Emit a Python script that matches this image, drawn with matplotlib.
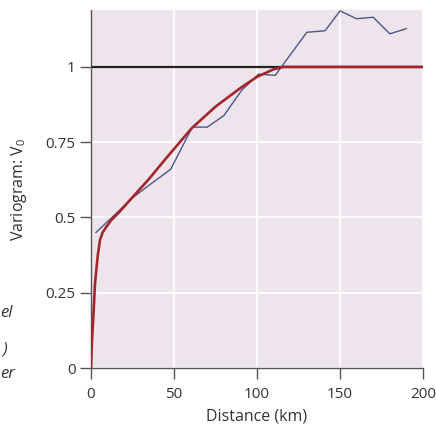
import matplotlib
matplotlib.use("Agg")
import matplotlib.pyplot as plt

plt.rcParams['font.family'] = ['Open Sans', 'DejaVu Sans']
plt.rcParams['mathtext.fontset'] = 'custom'
plt.rcParams['mathtext.rm'] = 'Open Sans'

# Empirical variogram (blue)
emp_dist = [3, 25, 34, 48, 61, 70, 80, 91, 101, 111, 130, 141, 150, 160, 170, 180, 190]
emp_val = [0.45, 0.565, 0.603, 0.66, 0.80, 0.80, 0.838, 0.924, 0.976, 0.972,
           1.115, 1.12, 1.186, 1.16, 1.165, 1.11, 1.127]

# Fitted model (red)
mod_dist = [0, 0.5, 1.4, 2.4, 4, 5.4, 7, 9.4, 12, 16.4, 23.5, 34.5, 45, 60.6,
            75, 89.8, 100, 110, 116, 120, 200]
mod_val = [0, 0.08, 0.17, 0.28, 0.37, 0.425, 0.45, 0.47, 0.49, 0.514, 0.558,
           0.625, 0.695, 0.796, 0.868, 0.929, 0.967, 0.992, 1.0, 1.0, 1.0]

sill = 1.0
x_ticks = [0, 50, 100, 150, 200]
y_ticks = [0, 0.25, 0.5, 0.75, 1]
y_ticklabels = ["0", "0.25", "0.5", "0.75", "1"]

fig = plt.figure(figsize=(4.36, 4.25), dpi=100)
ax = fig.add_axes([91/436, 57/425, 332/436, 358/425])
ax.set_facecolor('#ede5eb')

ax.set_xlim(0, 200)
ax.set_ylim(0, 1.189)
ax.set_xticks(x_ticks)
ax.set_yticks(y_ticks)
ax.set_yticklabels(y_ticklabels)

ax.grid(True, color='white', linewidth=1.3)
ax.set_axisbelow(True)

for s in ['top', 'right']:
    ax.spines[s].set_visible(False)
for s in ['left', 'bottom']:
    ax.spines[s].set_color('#555555')
    ax.spines[s].set_linewidth(1.0)

ax.tick_params(axis='both', direction='out', length=8, width=1.0,
               color='#555555', labelsize=11, labelcolor='#333333')
ax.tick_params(axis='y', pad=3)
ax.tick_params(axis='x', pad=6)

ax.axhline(sill, color='#222222', linewidth=1.6, zorder=2)
ax.plot(emp_dist, emp_val, color='#4b5687', linewidth=1.0, zorder=3)
ax.plot(mod_dist, mod_val, color='#a3262c', linewidth=1.9, zorder=4,
        solid_capstyle='butt')

ax.set_xlabel('Distance (km)', fontsize=11.5, color='#333333')
ax.set_ylabel(r'Variogram: V$_\mathregular{0}$', fontsize=11.5, color='#333333')
ax.xaxis.set_label_coords(0.5, -0.112)
ax.yaxis.set_label_coords(-0.188, 0.5)

# cut-off legend text at the left edge
for txt, xpx, ypx in [("el", 0.5, 313), (")", 2, 349), ("er", 0.5, 374)]:
    fig.text(xpx/436, 1 - ypx/425, txt, ha='left', va='center',
             fontsize=12, style='italic', color='#333333')

fig.savefig('out.png', dpi=100)
